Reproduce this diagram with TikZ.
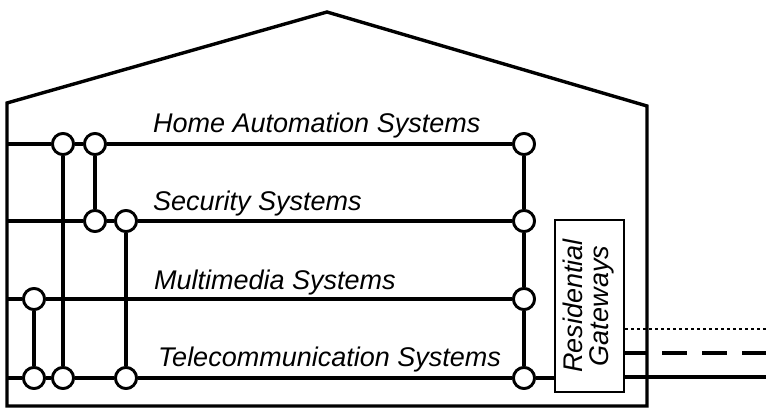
\documentclass[tikz,border=0pt]{standalone}
\usepackage{fontspec}
\setmainfont{Liberation Sans}
\begin{document}
\begin{tikzpicture}[x=1pt,y=-1pt,
  wire/.style={line width=3.2pt},
  junction/.style={circle,draw,fill=white,line width=2.8pt,minimum size=21pt,inner sep=0pt},
  label/.style={anchor=base west,inner sep=0pt,font=\fontsize{27}{28}\selectfont\itshape},
  gatebox/.style={draw,line width=2pt,minimum width=69pt,minimum height=172pt,inner sep=0pt,
    font=\fontsize{27}{28}\selectfont\itshape}]
\useasboundingbox (0,0) rectangle (766,409);
% house outline
\draw[line width=3.4pt,line join=miter] (7,406) -- (7,103) -- (327,12) -- (647,106) -- (647,406) -- cycle;
% wall coordinates
\coordinate (wh) at (7,144);
\coordinate (ws) at (7,221);
\coordinate (wm) at (7,299);
\coordinate (wt) at (7,378);
% junctions
\node[junction] (h1) at (63,144) {};
\node[junction] (h2) at (95,144) {};
\node[junction] (h3) at (524,144) {};
\node[junction] (s1) at (95,221) {};
\node[junction] (s2) at (126,221) {};
\node[junction] (s3) at (524,221) {};
\node[junction] (m1) at (34,299) {};
\node[junction] (m2) at (524,299) {};
\node[junction] (t1) at (34,378) {};
\node[junction] (t2) at (63,378) {};
\node[junction] (t3) at (126,378) {};
\node[junction] (t4) at (524,378) {};
% gateway
\node[gatebox] (gw) at (589.5,306) {\rotatebox{90}{\begin{tabular}{@{}c@{}}Residential\\[-2pt]Gateways\end{tabular}}};
% horizontal buses
\draw[wire] (wh) -- (h1) -- (h2) -- (h3);
\draw[wire] (ws) -- (s1) -- (s2) -- (s3);
\draw[wire] (wm) -- (m1) -- (m2);
\draw[wire] (wt) -- (t1) -- (t2) -- (t3) -- (t4) -- (t4 -| gw.west);
% vertical links
\draw[wire] (h1) -- (t2);
\draw[wire] (h2) -- (s1);
\draw[wire] (s2) -- (t3);
\draw[wire] (m1) -- (t1);
\draw[wire] (h3) -- (s3) -- (m2) -- (t4);
% redraw junctions on top
\foreach \n in {h1,h2,h3,s1,s2,s3,m1,m2,t1,t2,t3,t4}
  \node[junction] at (\n) {};
% labels
\node[label] (lh) at (153,133) {Home Automation Systems};
\node[label] (ls) at (153,210) {Security Systems};
\node[label] (lm) at (154,289) {Multimedia Systems};
\node[label] (lt) at (158,366) {Telecommunication Systems};
% external lines
\coordinate (e1) at (766,329);
\coordinate (wr) at (647,353);
\coordinate (e2) at (766,353);
\coordinate (e3) at (766,377);
\draw[line width=2.2pt,dash pattern=on 3pt off 3pt] (e1 -| gw.east) -- (e1);
\draw[wire] (wr -| gw.east) -- (wr);
\draw[wire,dash pattern=on 25pt off 15pt,dash phase=25pt] (wr) -- (e2);
\draw[wire] (e3 -| gw.east) -- (e3);
\end{tikzpicture}
\end{document}
